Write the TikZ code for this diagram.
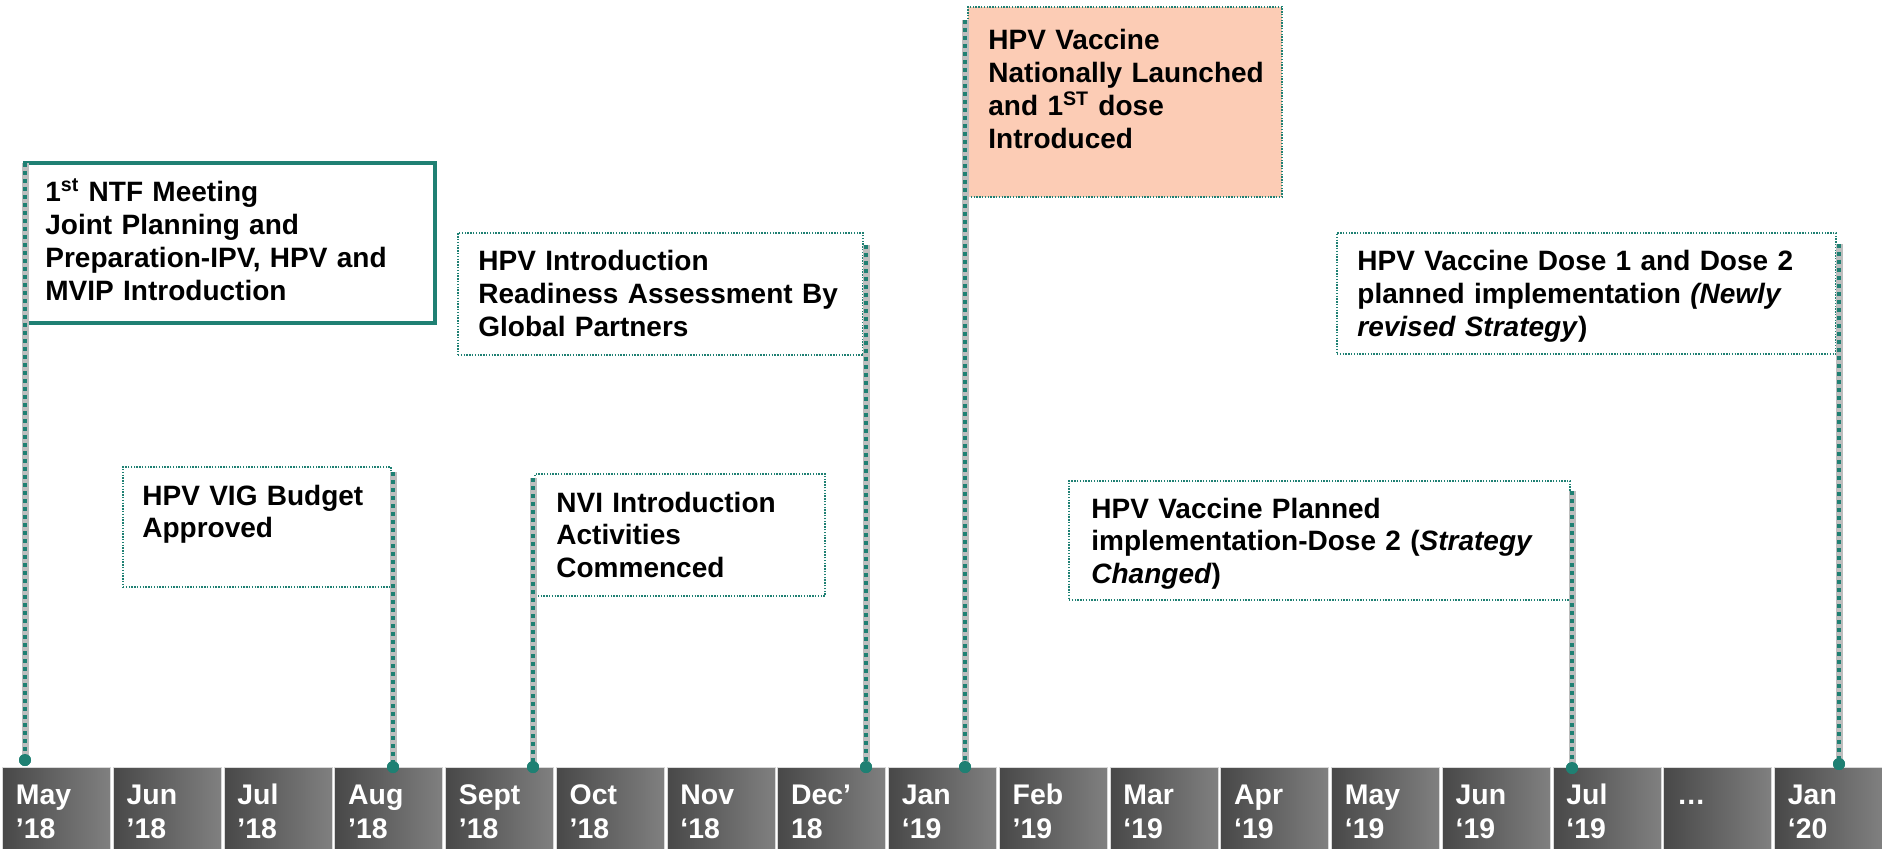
\documentclass[tikz,border=0pt]{standalone}
\usepackage{fontspec}
\setmainfont{Liberation Sans}
\usetikzlibrary{fit}
\definecolor{teal1}{RGB}{31,128,115}
\definecolor{peach}{RGB}{252,204,181}
\definecolor{cdark}{RGB}{72,72,72}
\definecolor{clight}{RGB}{128,128,128}
\definecolor{connbgc}{RGB}{190,190,190}
\begin{document}
\begin{tikzpicture}[x=0.5pt,y=-0.5pt,
 evbox/.style={draw=teal1, line width=0.75pt, dash pattern=on 0.7pt off 0.7pt, inner sep=0pt, fill=white},
 mainbox/.style={draw=teal1, line width=2pt, inner sep=0pt, fill=white},
 evtext/.style={anchor=base west, inner sep=0pt, text width=300pt, align=left, font=\bfseries\fontsize{14}{16.4}\selectfont},
 tlcell/.style={inner sep=0pt, left color=cdark, right color=clight, draw=gray!30, line width=0.5pt},
 celltext/.style={anchor=base west, inner sep=0pt, text width=50pt, align=left, text=white, font=\bfseries\fontsize{14.2}{17}\selectfont},
 tdot/.style={circle, fill=teal1, inner sep=0pt, minimum size=6pt},
 conn/.style={draw=teal1, line width=2.3pt, dash pattern=on 2pt off 2pt,
   preaction={draw=connbgc, line width=3.5pt, solid}},
]
\useasboundingbox (0,0) rectangle (1882,849);

% timeline cells
\foreach \lab [count=\i from 0] in {May\\’18, Jun\\’18, Jul\\’18, Aug\\’18, Sept\\’18, Oct\\’18, Nov\\‘18, Dec’\\18, Jan\\‘19, Feb\\’19, Mar\\‘19, Apr\\‘19, May\\‘19, Jun\\‘19, Jul\\‘19, …, Jan\\‘20}{
  \pgfmathsetmacro{\xl}{2.5+\i*110.75}
  \pgfmathsetmacro{\xr}{\xl+108}
  \node[tlcell, fit={(\xl,767) (\xr,852)}] (m\i) {};
  \node[celltext] (ml\i) at ({\xl+13},804) {\lab};
}

% event boxes
\node[mainbox, fit={(25,163) (435,323)}] (b1) {};
\node[evtext] (t1) at (45,202) {1\textsuperscript{st} NTF Meeting\\Joint Planning and\\Preparation-IPV, HPV and\\MVIP Introduction};

\node[evbox, fit={(123,467) (391,587)}] (b2) {};
\node[evtext] (t2) at (142,505) {HPV VIG Budget\\Approved};

\node[evbox, fit={(458,233) (863,355)}] (b3) {};
\node[evtext] (t3) at (478,271) {HPV Introduction\\Readiness Assessment By\\Global Partners};

\node[evbox, fit={(535,474) (825,596)}] (b4) {};
\node[evtext] (t4) at (556,512) {NVI Introduction\\Activities\\Commenced};

\node[evbox, fill=peach, fit={(968,7) (1282,197)}] (b5) {};
\node[evtext] (t5) at (988,50) {HPV Vaccine\\Nationally Launched\\and 1\textsuperscript{ST} dose\\Introduced};

\node[evbox, fit={(1069,481) (1570,600)}] (b6) {};
\node[evtext] (t6) at (1091,518) {HPV Vaccine Planned\\implementation-Dose 2 (\textit{Strategy}\\\textit{Changed})};

\node[evbox, fit={(1337,233) (1836,354)}] (b7) {};
\node[evtext] (t7) at (1357,271) {HPV Vaccine Dose 1 and Dose 2\\planned implementation \textit{(Newly}\\\textit{revised Strategy})};

% connector start points and dots
\coordinate (s1) at (25,163);
\coordinate (s2) at (393,472);
\coordinate (s3) at (533,478);
\coordinate (s4) at (866,245);
\coordinate (s5) at (965,20);
\coordinate (s6) at (1572,491);
\coordinate (s7) at (1839,244);

\node[tdot] (d1) at (25,760) {};
\node[tdot] (d2) at (393,767) {};
\node[tdot] (d3) at (533,767) {};
\node[tdot] (d4) at (866,767) {};
\node[tdot] (d5) at (965,767) {};
\node[tdot] (d6) at (1572,768) {};
\node[tdot] (d7) at (1839,764) {};

\foreach \k in {1,...,7}{
  \draw[conn] (s\k) -- (d\k.center);
  \node[tdot] at (d\k) {};
}
\end{tikzpicture}
\end{document}
